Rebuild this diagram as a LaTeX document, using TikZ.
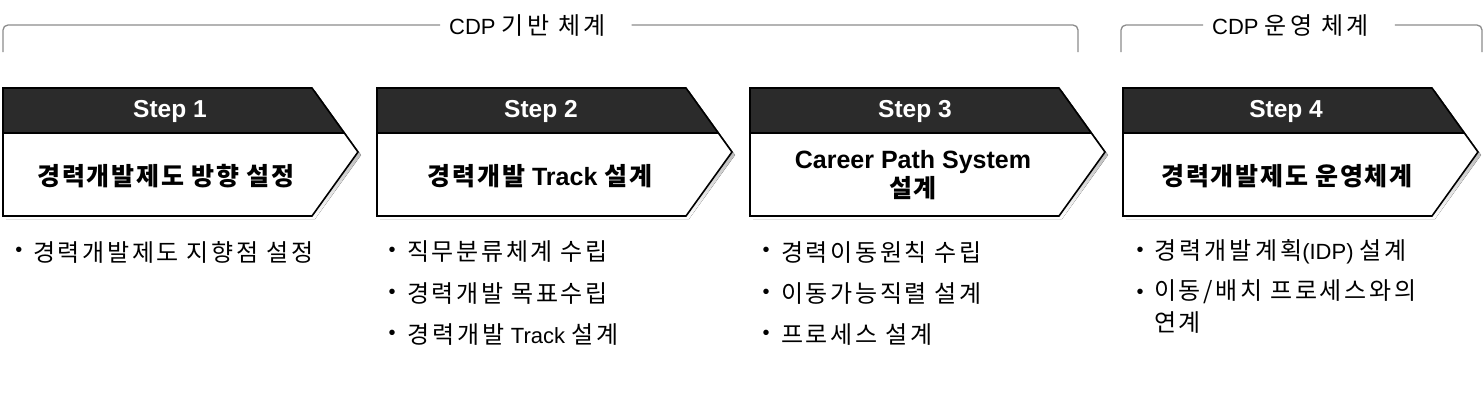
\documentclass[tikz,border=0pt]{standalone}
\usepackage{fontspec}
\setmainfont{Liberation Sans}
\newfontfamily\kr[LetterSpace=11]{Noto Sans CJK KR}
\newfontfamily\krw[LetterSpace=13]{Noto Sans CJK KR}
\newfontfamily\krl[LetterSpace=14]{Noto Sans CJK KR}
\newfontfamily\krt[LetterSpace=7]{Noto Sans CJK KR}
\newcommand\kb{\kr\fontsize{24}{32}\selectfont}
\newcommand\kw{\krw\fontsize{24}{32}\selectfont}
\newcommand\kl{\krl\fontsize{24}{26}\selectfont}
\definecolor{band}{HTML}{2B2B2B}
\definecolor{shade}{HTML}{9A9A9A}
\definecolor{brk}{HTML}{8C8C8C}
\tikzset{
  steplabel/.style={text=white,font=\fontsize{24.5}{26}\selectfont\bfseries,inner sep=0pt},
  steptitle/.style={text=black,font=\fontsize{25}{29}\selectfont\bfseries,inner sep=0pt,align=center},
  bullettext/.style={text=black,font=\fontsize{22}{32}\selectfont,inner sep=0pt,anchor=west,align=left},
  bulletdot/.style={text=black,font=\fontsize{20}{24}\selectfont,inner sep=0pt},
  toplabel/.style={text=black,font=\fontsize{22}{24}\selectfont,inner sep=0pt,anchor=west},
  bracket/.style={draw=brk,line width=1.3pt,rounded corners=5pt},
}
\newcommand\stepshape[1]{%
  \fill[shade] ({#1+3},91) -- ({#1+312},91) -- ({#1+358},155) -- ({#1+312},219) -- ({#1+3},219) -- cycle;
  \fill[white] (#1,88) -- ({#1+309},88) -- ({#1+355},152) -- ({#1+309},216) -- (#1,216) -- cycle;
  \fill[band] (#1,88) -- ({#1+309},88) -- ({#1+341},133) -- (#1,133) -- cycle;
  \draw[line width=1.6pt] (#1,133) -- ({#1+341},133);
  \draw[line width=1.6pt,line join=miter] (#1,88) -- ({#1+309},88) -- ({#1+355},152) -- ({#1+309},216) -- (#1,216) -- cycle;
}
\begin{document}
\begin{tikzpicture}[x=1pt,y=-1pt]
\useasboundingbox[fill=white] (0,0) rectangle (1484,400);
% top brackets
\node[toplabel] (lab1) at (449,26) {CDP {\kl 기반 체계}};
\node[toplabel] (lab2) at (1212,26) {CDP {\kl 운영 체계}};
\draw[bracket] ([xshift=-9pt]lab1.west |- 0,25) -- (3,25) -- (3,52);
\draw[bracket] ([xshift=26pt]lab1.east |- 0,25) -- (1078,25) -- (1078,52);
\draw[bracket] ([xshift=-9pt]lab2.west |- 0,25) -- (1121,25) -- (1121,52);
\draw[bracket] ([xshift=26pt]lab2.east |- 0,25) -- (1482,25) -- (1482,52);
% step shapes
\stepshape{3}
\stepshape{377}
\stepshape{750}
\stepshape{1123}
% step labels
\node[steplabel] (s1) at (170,111) {Step 1};
\node[steplabel] (s2) at (541,111) {Step 2};
\node[steplabel] (s3) at (915,111) {Step 3};
\node[steplabel] (s4) at (1286,111) {Step 4};
% titles
\node[steptitle] (t1) at (166,176) {\krt 경력개발제도 방향 설정};
\node[steptitle] (t2) at (540,176) {{\krt 경력개발} Track {\krt 설계}};
\node[steptitle] (t3) at (913,175) {Career Path System\\{\krt 설계}};
\node[steptitle] (t4) at (1287,176) {\krt 경력개발제도 운영체계};
% bullets step 1
\node[bulletdot] (d11) at (19,252) {•};
\node[bullettext] (b11) at (33,252) {\kb 경력개발제도 지향점 설정};
% bullets step 2
\node[bulletdot] (d21) at (392,252) {•};
\node[bullettext] (b21) at (407,252) {\kb 직무분류체계 수립};
\node[bulletdot] (d22) at (392,294) {•};
\node[bullettext] (b22) at (407,294) {\kb 경력개발 목표수립};
\node[bulletdot] (d23) at (392,335) {•};
\node[bullettext] (b23) at (407,335) {{\kw 경력개발} Track {\kw 설계}};
% bullets step 3
\node[bulletdot] (d31) at (766,252) {•};
\node[bullettext] (b31) at (781,252) {\kb 경력이동원칙 수립};
\node[bulletdot] (d32) at (766,294) {•};
\node[bullettext] (b32) at (781,294) {\kb 이동가능직렬 설계};
\node[bulletdot] (d33) at (766,335) {•};
\node[bullettext] (b33) at (781,335) {\kb 프로세스 설계};
% bullets step 4
\node[bulletdot] (d41) at (1140,252) {•};
\node[bullettext] (b41) at (1154,252) {{\kw 경력개발계획}(IDP) {\kw 설계}};
\node[bulletdot] (d42) at (1140,294) {•};
\node[bullettext,anchor=north west] (b42) at (1154,279) {{\kb 이동/배치 프로세스와의}\\{\kb 연계}};
\end{tikzpicture}
\end{document}
